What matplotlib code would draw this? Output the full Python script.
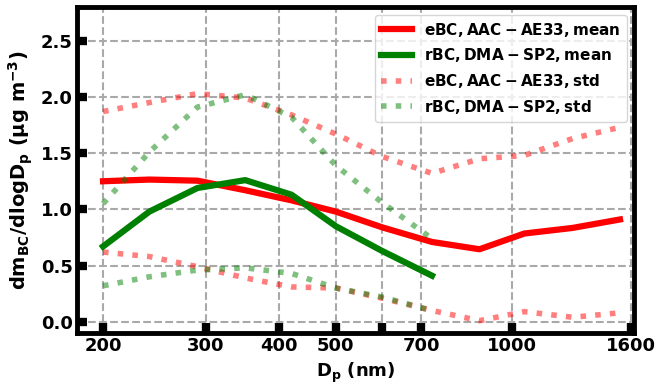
import numpy as np
import matplotlib
matplotlib.use('Agg')
import matplotlib.pyplot as plt

# particle mobility diameters (nm)
dp_aac = [200, 240, 290, 350, 420, 500, 600, 730, 880, 1050, 1270, 1530]
dp_sp2 = [200, 240, 290, 350, 420, 500, 600, 730]

# eBC (AAC - AE33)
ebc_mean = [1.25, 1.265, 1.255, 1.17, 1.08, 0.98, 0.84, 0.71, 0.645, 0.785, 0.835, 0.91]
ebc_std_hi = [1.87, 1.95, 2.03, 1.99, 1.84, 1.67, 1.47, 1.32, 1.45, 1.48, 1.63, 1.73]
ebc_std_lo = [0.62, 0.58, 0.49, 0.39, 0.31, 0.30, 0.21, 0.10, 0.01, 0.09, 0.04, 0.08]

# rBC (DMA - SP2)
rbc_mean = [0.67, 0.98, 1.19, 1.26, 1.13, 0.85, 0.63, 0.41]
rbc_std_hi = [1.05, 1.51, 1.91, 2.02, 1.82, 1.39, 1.06, 0.74]
rbc_std_lo = [0.32, 0.40, 0.46, 0.48, 0.43, 0.30, 0.22, 0.10]

xticks = [200, 300, 400, 500, 600, 700, 1000, 1600]
xticklabels = ['200', '300', '400', '500', '', '700', '1000', '1600']
yticks = [0.0, 0.5, 1.0, 1.5, 2.0, 2.5]

plt.rcParams['font.weight'] = 'bold'
plt.rcParams['mathtext.default'] = 'bf'

fig = plt.figure(figsize=(6.66, 3.87), dpi=100)
ax = fig.add_axes([0.1156, 0.1395, 0.9527 - 0.1156, 0.9819 - 0.1395])

ax.plot(dp_aac, ebc_mean, color='red', lw=4.5, label=r'$\mathbf{eBC, AAC-AE33, mean}$')
ax.plot(dp_sp2, rbc_mean, color='green', lw=4.5, label=r'$\mathbf{rBC, DMA-SP2, mean}$')
ax.plot(dp_aac, ebc_std_hi, color='red', lw=4, ls=':', alpha=0.5,
        label=r'$\mathbf{eBC, AAC-AE33, std}$')
ax.plot(dp_sp2, rbc_std_hi, color='green', lw=4, ls=':', alpha=0.5,
        label=r'$\mathbf{rBC, DMA-SP2, std}$')
ax.plot(dp_aac, ebc_std_lo, color='red', lw=4, ls=':', alpha=0.5)
ax.plot(dp_sp2, rbc_std_lo, color='green', lw=4, ls=':', alpha=0.5)

ax.set_xscale('log')
ax.set_xlim(180.5, 1620)
ax.set_ylim(-0.1, 2.8)
ax.xaxis.set_minor_locator(matplotlib.ticker.NullLocator())
ax.set_xticks(xticks)
ax.set_xticklabels(xticklabels)
ax.set_yticks(yticks)
ax.set_yticklabels(['%.1f' % v for v in yticks])

ax.tick_params(axis='both', direction='in', length=7, width=6, labelsize=13, pad=3)
for lab in ax.get_xticklabels() + ax.get_yticklabels():
    lab.set_fontweight('bold')
for sp in ax.spines.values():
    sp.set_linewidth(3.5)

ax.grid(True, ls='--', color='darkgray', lw=1.5)
ax.set_axisbelow(True)

ax.set_xlabel(r'$\mathbf{D_p\ (nm)}$', fontsize=13)
ax.set_ylabel(r'$\mathbf{dm_{BC}/dlogD_p\ (\mu g\ m^{-3})}$', fontsize=14)

leg = ax.legend(loc='upper right', fontsize=11, handlelength=2.0)

fig.savefig('out.png', dpi=100)
